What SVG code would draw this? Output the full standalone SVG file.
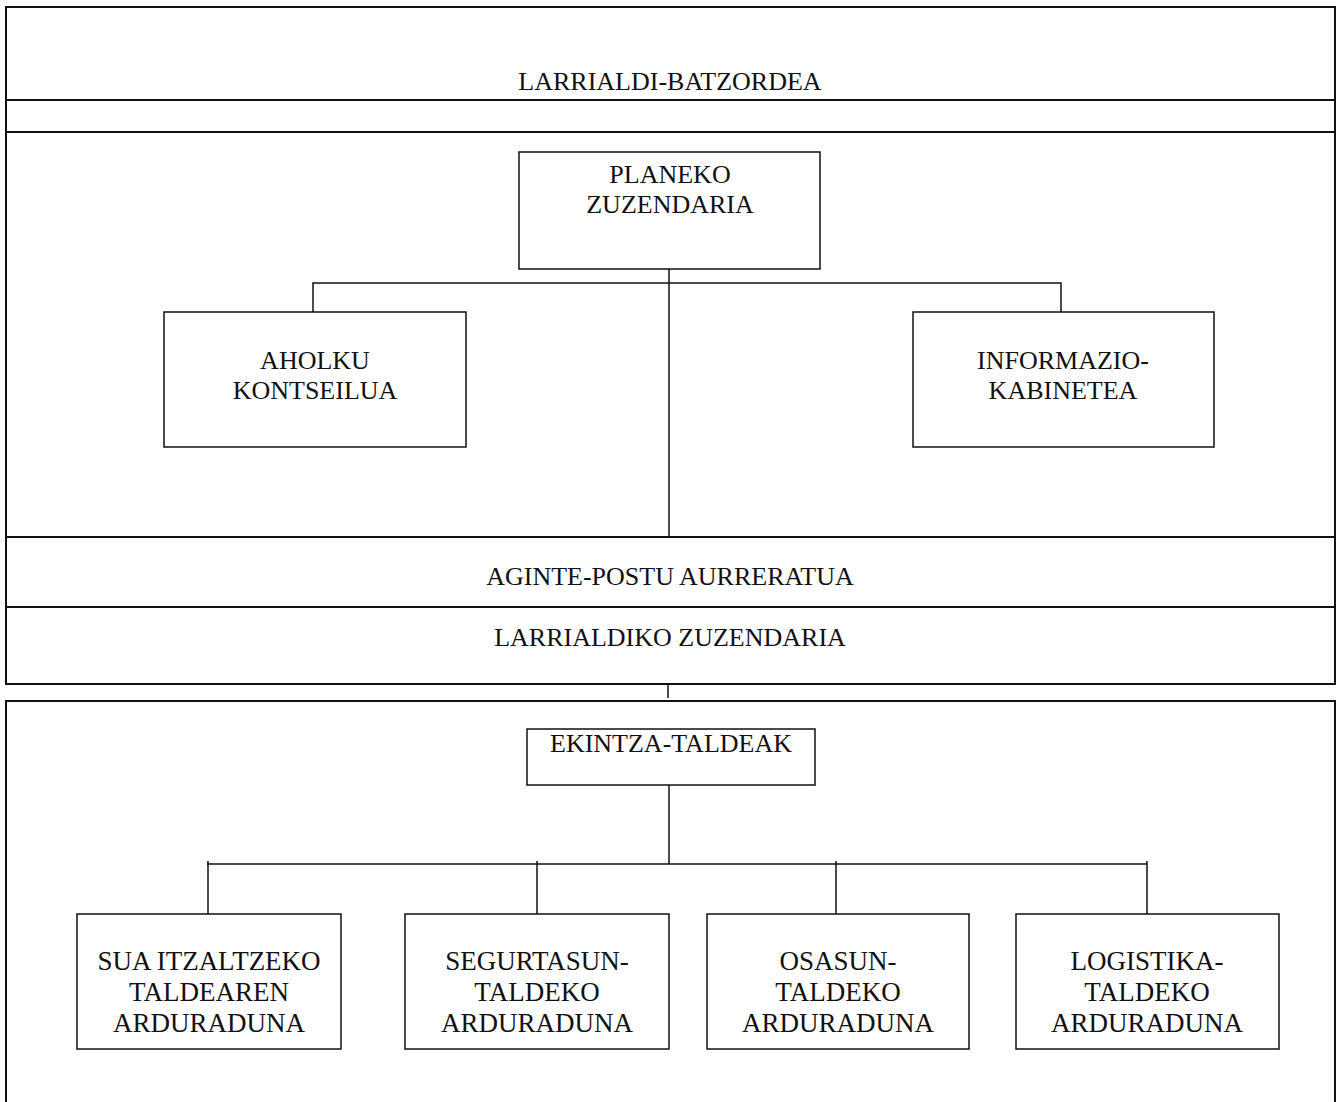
<svg xmlns="http://www.w3.org/2000/svg" width="1337" height="1102" viewBox="0 0 1337 1102">
<style>
text{font-family:"Liberation Serif","Times New Roman",serif;font-size:26px;fill:#111;text-anchor:middle}
.big{font-size:27px}
.frame{fill:none;stroke:#111;stroke-width:2}
.box{fill:#fff;stroke:#111;stroke-width:1.5}
.con{fill:none;stroke:#111;stroke-width:1.5}
</style>
<rect width="1337" height="1102" fill="#fff"/>
<g id="frame-top">
<rect class="frame" x="6" y="7" width="1329" height="677"/>
<line class="frame" x1="6" y1="100" x2="1335" y2="100"/>
<line class="frame" x1="6" y1="132" x2="1335" y2="132"/>
<line class="frame" x1="6" y1="537" x2="1335" y2="537"/>
<line class="frame" x1="6" y1="607" x2="1335" y2="607"/>
<text x="670" y="90">LARRIALDI-BATZORDEA</text>
<text x="670" y="585">AGINTE-POSTU AURRERATUA</text>
<text x="670" y="646">LARRIALDIKO ZUZENDARIA</text>
</g>
<g id="frame-bottom">
<rect class="frame" x="6" y="701" width="1329" height="420"/>
</g>
<g id="connectors">
<line class="con" x1="669" y1="269" x2="669" y2="537"/>
<polyline class="con" points="313,312 313,283 1061,283 1061,312"/>
<line class="con" x1="668" y1="684" x2="668" y2="698"/>
<line class="con" x1="669" y1="785" x2="669" y2="864"/>
<line class="con" x1="207" y1="864" x2="1147" y2="864"/>
<line class="con" x1="208" y1="861" x2="208" y2="914"/>
<line class="con" x1="537" y1="861" x2="537" y2="914"/>
<line class="con" x1="836" y1="861" x2="836" y2="914"/>
<line class="con" x1="1147" y1="861" x2="1147" y2="914"/>
</g>
<g id="planeko">
<rect class="box" x="519" y="152" width="301" height="117"/>
<text x="670" y="183">PLANEKO</text>
<text x="670" y="213">ZUZENDARIA</text>
</g>
<g id="aholku">
<rect class="box" x="164" y="312" width="302" height="135"/>
<text x="315" y="369">AHOLKU</text>
<text x="315" y="399">KONTSEILUA</text>
</g>
<g id="informazio">
<rect class="box" x="913" y="312" width="301" height="135"/>
<text x="1063" y="369">INFORMAZIO-</text>
<text x="1063" y="399">KABINETEA</text>
</g>
<g id="ekintza">
<rect class="box" x="527" y="729" width="288" height="56"/>
<text x="671" y="752">EKINTZA-TALDEAK</text>
</g>
<g id="sua">
<rect class="box" x="77" y="914" width="264" height="135"/>
<text class="big" x="209" y="970">SUA ITZALTZEKO</text>
<text class="big" x="209" y="1001">TALDEAREN</text>
<text class="big" x="209" y="1032">ARDURADUNA</text>
</g>
<g id="segurtasun">
<rect class="box" x="405" y="914" width="264" height="135"/>
<text class="big" x="537" y="970">SEGURTASUN-</text>
<text class="big" x="537" y="1001">TALDEKO</text>
<text class="big" x="537" y="1032">ARDURADUNA</text>
</g>
<g id="osasun">
<rect class="box" x="707" y="914" width="262" height="135"/>
<text class="big" x="838" y="970">OSASUN-</text>
<text class="big" x="838" y="1001">TALDEKO</text>
<text class="big" x="838" y="1032">ARDURADUNA</text>
</g>
<g id="logistika">
<rect class="box" x="1016" y="914" width="263" height="135"/>
<text class="big" x="1147" y="970">LOGISTIKA-</text>
<text class="big" x="1147" y="1001">TALDEKO</text>
<text class="big" x="1147" y="1032">ARDURADUNA</text>
</g>
</svg>
